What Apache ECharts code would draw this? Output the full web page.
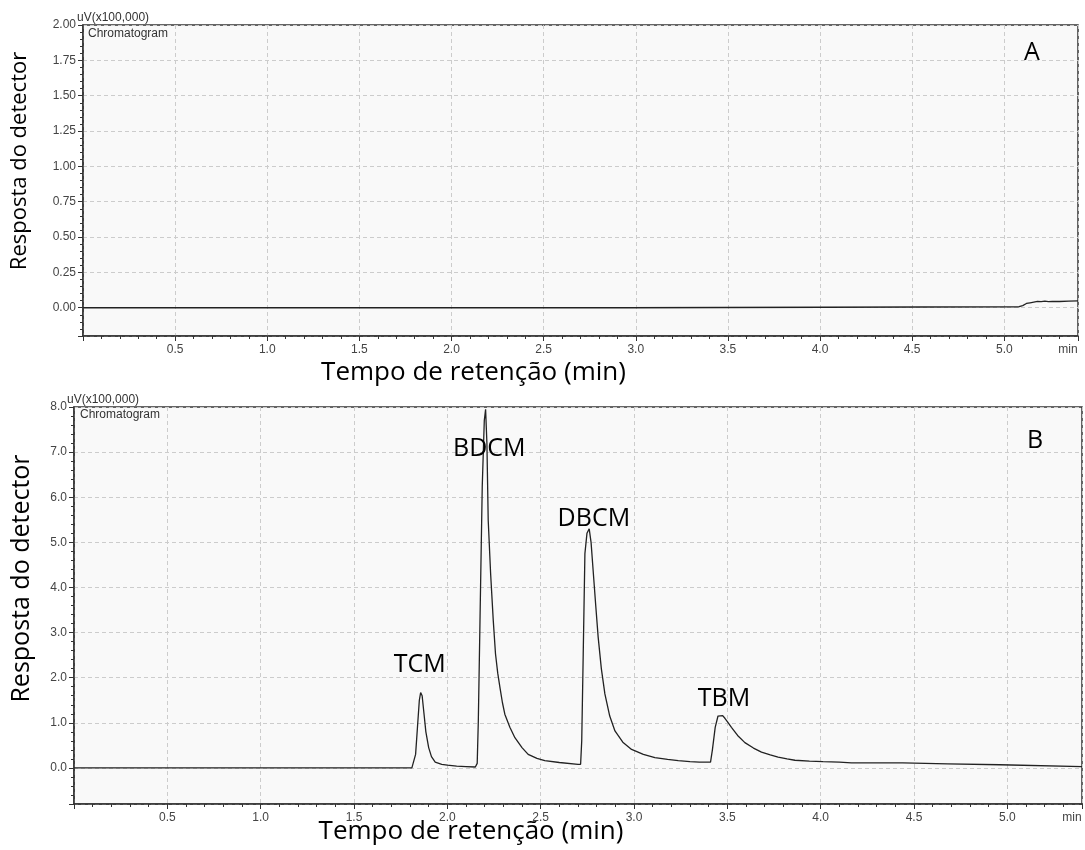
<!DOCTYPE html>
<html>
<head>
<meta charset="utf-8">
<script src="https://cdn.jsdelivr.net/npm/echarts@6/dist/echarts.min.js"></script>
<style>html,body{margin:0;padding:0;background:#fff;}#c{width:1085px;height:850px;}</style>
</head>
<body>
<div id="c"></div>
<script>
// Panel A (blank) trace: time (min) and response (x100,000 uV)
const timeA = [0, 2.95, 2.96, 5.08, 5.10, 5.12, 5.14, 5.16, 5.18, 5.20, 5.22, 5.24, 5.26, 5.30, 5.35, 5.40];
const respA = [0, 0, 0.007, 0.007, 0.015, 0.03, 0.035, 0.04, 0.045, 0.043, 0.047, 0.043, 0.045, 0.044, 0.047, 0.048];

// Panel B (standard) trace
const timeB = [0, 1.81, 1.82, 1.83, 1.84, 1.85, 1.857, 1.865, 1.875, 1.885, 1.9, 1.915, 1.935, 1.97, 2.0, 2.05, 2.1, 2.15,
  2.16, 2.166, 2.175, 2.187, 2.198, 2.205, 2.212, 2.219, 2.232, 2.246, 2.258, 2.27, 2.282, 2.295, 2.308, 2.335, 2.362, 2.4, 2.433, 2.48, 2.522, 2.6, 2.7,
  2.714, 2.72, 2.728, 2.737, 2.748, 2.76, 2.77, 2.781, 2.795, 2.808, 2.825, 2.844, 2.87, 2.898, 2.94, 2.987, 3.05, 3.112, 3.18, 3.237, 3.3, 3.35, 3.41,
  3.42, 3.435, 3.45, 3.46, 3.475, 3.487, 3.505, 3.522, 3.555, 3.594, 3.64, 3.683, 3.73, 3.772, 3.82, 3.862, 3.94, 4.013, 4.1, 4.165, 4.3, 4.44,
  4.45, 4.68, 4.69, 4.96, 4.97, 5.4];
const respB = [0, 0, 0.02, 0.3, 0.9, 1.5, 1.67, 1.6, 1.2, 0.8, 0.45, 0.25, 0.13, 0.08, 0.06, 0.04, 0.03, 0.02,
  0.1, 1.04, 3.27, 6.23, 7.7, 7.95, 7.2, 5.49, 4.3, 3.27, 2.53, 2.1, 1.78, 1.45, 1.19, 0.9, 0.67, 0.45, 0.3, 0.21, 0.16, 0.12, 0.08,
  0.08, 0.6, 2.53, 4.75, 5.2, 5.3, 5.0, 4.38, 3.6, 2.9, 2.2, 1.64, 1.15, 0.82, 0.57, 0.41, 0.3, 0.23, 0.19, 0.16, 0.14, 0.13, 0.13,
  0.4, 0.9, 1.15, 1.18, 1.16, 1.1, 1.0, 0.9, 0.72, 0.56, 0.44, 0.35, 0.29, 0.24, 0.2, 0.17, 0.15, 0.14, 0.13, 0.11, 0.11, 0.11,
  0.09, 0.09, 0.07, 0.07, 0.03, 0.03];

// Peak annotations (label anchor in data units)
const peakNames = ['TCM', 'BDCM', 'DBCM', 'TBM'];
const peakLabelTime = [1.852, 2.225, 2.785, 3.482];
const peakLabelResp = [2.28, 7.08, 5.53, 1.53];

const xTitle = 'Tempo de retenção (min)';
const yTitle = 'Resposta do detector';

const bigFont = '"Open Sans", sans-serif';
const smallFont = '"Liberation Sans", Arial, sans-serif';

function xAxisFor(gi, gap) {
  return {
    type: 'value', gridIndex: gi, min: 0, max: 5.4, interval: 0.5,
    name: xTitle, nameLocation: 'middle', nameGap: gap, nameMoveOverlap: false,
    nameTextStyle: { fontFamily: bigFont, fontSize: 26, color: '#000', padding: [0, 214, 0, 0] },
    axisLine: { show: true, onZero: false, lineStyle: { color: '#333', width: 1.5 } },
    axisTick: { show: true, length: 5, lineStyle: { color: '#333' } },
    minorTick: { show: true, splitNumber: 5, length: 3, lineStyle: { color: '#333' } },
    axisLabel: {
      color: '#444', fontFamily: smallFont, fontSize: 12, margin: 8,
      showMinLabel: true, showMaxLabel: true,
      formatter: v => v === 0 ? '' : (v > 5.2 ? '{m|min}' : v.toFixed(1)),
      rich: { m: { color: '#444', fontFamily: smallFont, fontSize: 12, padding: [0, 20, 0, 0] } }
    },
    splitLine: { show: true, lineStyle: { color: '#cccccc', type: [4, 3] } }
  };
}

const smallTitle = { fontFamily: smallFont, fontSize: 12, fontWeight: 'normal', color: '#333' };
const bigTitle = { fontFamily: bigFont, fontSize: 25, fontWeight: 'normal', color: '#000' };

const option = {
  animation: false,
  backgroundColor: '#fff',
  title: [
    { text: 'uV(x100,000)', left: 77, top: 12, padding: 0, textStyle: smallTitle },
    { text: 'Chromatogram', left: 88, top: 28, padding: 0, textStyle: smallTitle },
    { text: 'A', left: 1024, top: 40, padding: 0, textStyle: bigTitle },
    { text: 'uV(x100,000)', left: 67, top: 394, padding: 0, textStyle: smallTitle },
    { text: 'Chromatogram', left: 80, top: 409, padding: 0, textStyle: smallTitle },
    { text: 'B', left: 1027, top: 428, padding: 0, textStyle: bigTitle }
  ],
  grid: [
    { left: 83, top: 25, width: 995, height: 311, outerBoundsMode: 'none', containLabel: false, show: true, backgroundColor: '#f9f9f9', borderColor: '#333', borderWidth: 1.5 },
    { left: 74, top: 407, width: 1008, height: 397, outerBoundsMode: 'none', containLabel: false, show: true, backgroundColor: '#f9f9f9', borderColor: '#333', borderWidth: 1.5 }
  ],
  xAxis: [xAxisFor(0, 24), xAxisFor(1, 15)],
  yAxis: [
    {
      type: 'value', gridIndex: 0, min: -0.2, max: 2.0, minInterval: 0.25, maxInterval: 0.25, splitNumber: 9,
      name: yTitle, nameLocation: 'middle', nameGap: 52, nameRotate: 90, nameMoveOverlap: false,
      nameTextStyle: { fontFamily: bigFont, fontSize: 22, color: '#000', padding: [0, 0, 0, 39] },
      axisLine: { show: true, onZero: false, lineStyle: { color: '#333', width: 1.5 } },
      axisTick: { show: true, length: 5, lineStyle: { color: '#333' } },
      minorTick: { show: true, splitNumber: 5, length: 3, lineStyle: { color: '#333' } },
      axisLabel: { color: '#444', fontFamily: smallFont, fontSize: 12, margin: 7, showMinLabel: true, formatter: v => v < 0 ? '' : v.toFixed(2) },
      splitLine: { show: true, lineStyle: { color: '#cccccc', type: [4, 3] } }
    },
    {
      type: 'value', gridIndex: 1, min: -0.8, max: 8.0, minInterval: 1, maxInterval: 1, splitNumber: 9,
      name: yTitle, nameLocation: 'middle', nameGap: 40, nameRotate: 90, nameMoveOverlap: false,
      nameTextStyle: { fontFamily: bigFont, fontSize: 25, color: '#000', padding: [0, 0, 0, 54] },
      axisLine: { show: true, onZero: false, lineStyle: { color: '#333', width: 1.5 } },
      axisTick: { show: true, length: 5, lineStyle: { color: '#333' } },
      minorTick: { show: true, splitNumber: 5, length: 3, lineStyle: { color: '#333' } },
      axisLabel: { color: '#444', fontFamily: smallFont, fontSize: 12, margin: 7, formatter: v => v < 0 ? '' : v.toFixed(1) },
      splitLine: { show: true, lineStyle: { color: '#cccccc', type: [4, 3] } }
    }
  ],
  series: [
    {
      type: 'line', xAxisIndex: 0, yAxisIndex: 0, showSymbol: false, symbol: 'none',
      lineStyle: { color: '#222', width: 1.3 },
      data: timeA.map((t, i) => [t, respA[i]])
    },
    {
      type: 'line', xAxisIndex: 1, yAxisIndex: 1, showSymbol: false, symbol: 'none',
      lineStyle: { color: '#222', width: 1.3 },
      data: timeB.map((t, i) => [t, respB[i]]),
      markPoint: {
        symbol: 'circle', symbolSize: 1, itemStyle: { color: 'rgba(0,0,0,0)' },
        label: { show: true, position: 'inside', formatter: '{b}', fontFamily: bigFont, fontSize: 25, color: '#000' },
        data: peakNames.map((n, i) => ({ name: n, coord: [peakLabelTime[i], peakLabelResp[i]] }))
      }
    }
  ]
};

const chart = echarts.init(document.getElementById('c'), null, { renderer: 'canvas' });
chart.setOption(option);
</script>
</body>
</html>
